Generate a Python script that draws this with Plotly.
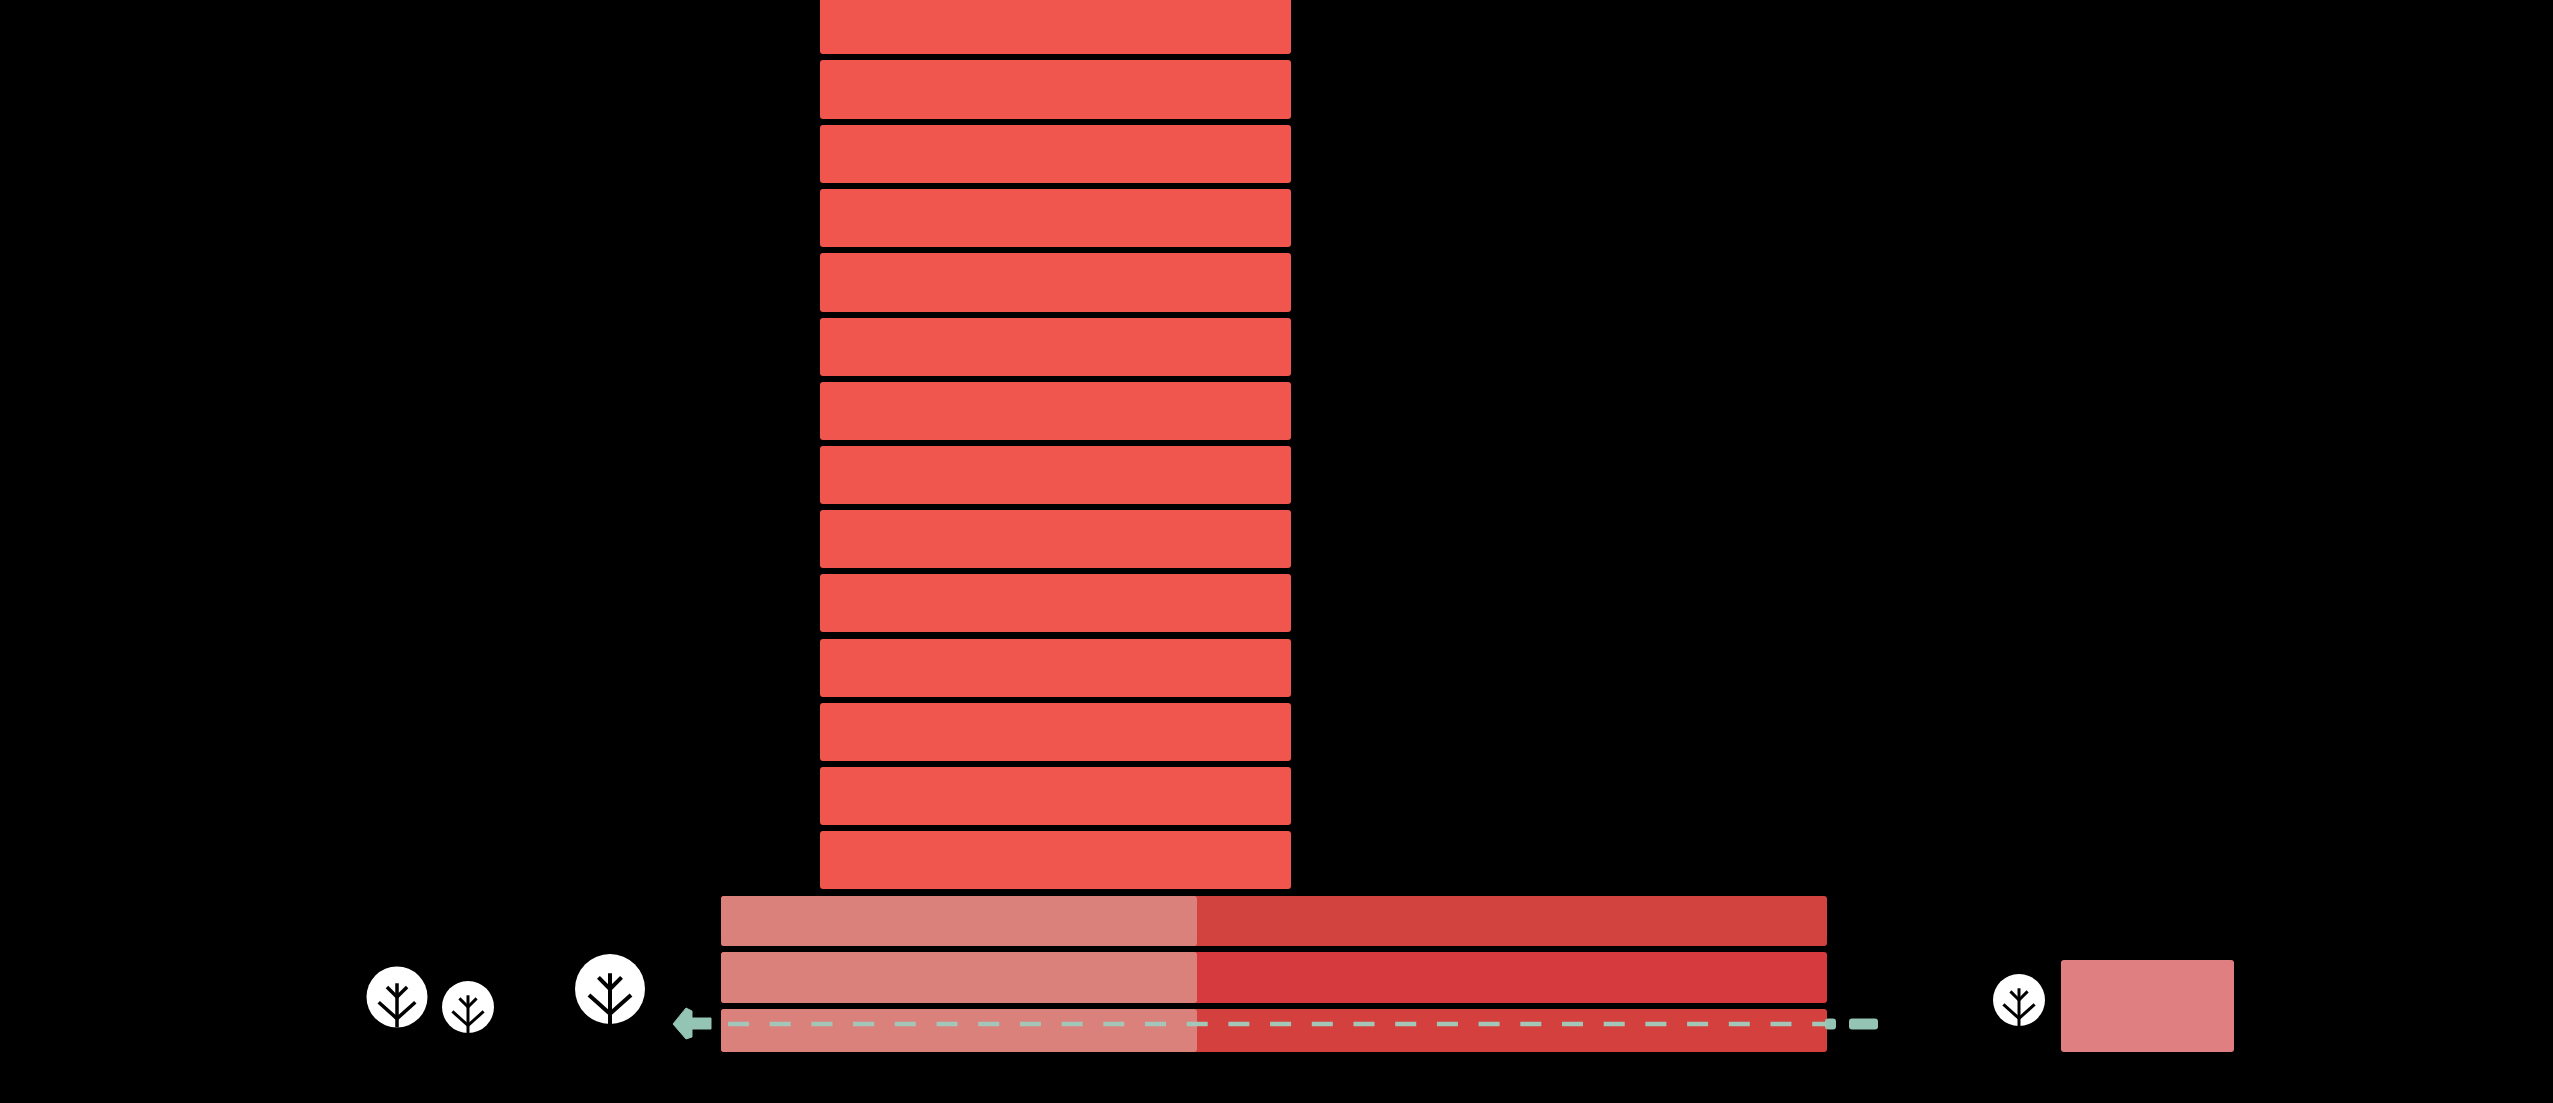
import plotly.graph_objects as go

# Chart values (axis units match the image's 2553 x 1103 frame)
tower_tops = [-5, 60, 125, 189, 253, 318, 382, 446, 510, 574, 639, 703, 767, 831]
tower_bottoms = [54, 119, 183, 247, 312, 376, 440, 504, 568, 632, 697, 761, 825, 889]
tower_start = 820
tower_length = 471

row_tops = [896, 952, 1009]
row_bottoms = [946, 1003, 1052]
row_start = 721
row_light_length = 476
row_full_length = 1106
row_dark_colors = ["#D2423F", "#D73A3E", "#D3403D"]

side_top = 960
side_bottom = 1052
side_start = 2061
side_length = 173

tree_x = [397, 468, 610, 2019]
tree_y = [997, 1007, 989, 1000]
tree_radius = [30.5, 26, 35, 26]

dash_x = [728, 1826]
dash_y = [1024, 1024]
stub_starts = [1825, 1849]
stub_lengths = [11, 29]
stub_y = 1024
arrow_x = [673, 686, 692, 692, 711, 711, 692, 692, 686, 673]
arrow_y = [1024, 1008, 1011, 1018, 1018, 1029, 1029, 1037, 1039, 1024]

TOWER = "#F1564E"
LIGHT = "#DB817C"
SIDE = "#E07F82"
TEAL = "#94C4B3"
DASH = "#A3C6B8"


def centers(tops, bottoms):
    return [(t + b) / 2 for t, b in zip(tops, bottoms)]


def heights(tops, bottoms):
    return [b - t for t, b in zip(tops, bottoms)]


def hbar(y, length, base, width, color, radius=3.5):
    return go.Bar(
        y=y, x=length, base=base, width=width, orientation="h",
        marker=dict(color=color, line=dict(width=0), cornerradius=radius),
        hoverinfo="skip", showlegend=False,
    )


fig = go.Figure()

fig.add_trace(hbar(centers(tower_tops, tower_bottoms), [tower_length] * len(tower_tops),
                   [tower_start] * len(tower_tops), heights(tower_tops, tower_bottoms), TOWER))
fig.add_trace(hbar(centers(row_tops, row_bottoms), [row_full_length] * 3, [row_start] * 3,
                   heights(row_tops, row_bottoms), row_dark_colors))
fig.add_trace(hbar(centers(row_tops, row_bottoms), [row_light_length] * 3, [row_start] * 3,
                   heights(row_tops, row_bottoms), LIGHT))
fig.add_trace(hbar([(side_top + side_bottom) / 2], [side_length], [side_start],
                   [side_bottom - side_top], SIDE))
fig.add_trace(hbar([stub_y, stub_y], stub_lengths, stub_starts, [11, 11], TEAL))

fig.add_trace(go.Scatter(x=dash_x, y=dash_y, mode="lines", hoverinfo="skip", showlegend=False,
                         line=dict(color=DASH, width=4.5, dash="21px,20.7px")))
fig.add_trace(go.Scatter(x=arrow_x, y=arrow_y, mode="lines", fill="toself", fillcolor=TEAL,
                         line=dict(color=TEAL, width=1), hoverinfo="skip", showlegend=False))

# Tree badges: white discs with a black branching glyph scaled by each radius
fig.add_trace(go.Scatter(
    x=tree_x, y=tree_y, mode="markers", hoverinfo="skip", showlegend=False,
    marker=dict(color="white", opacity=1, size=[2 * r for r in tree_radius], sizemode="diameter",
                line=dict(width=0)),
))
for cx, cy, r in zip(tree_x, tree_y, tree_radius):
    xs, ys = [], []
    segments = [
        ((0, -0.45), (0, 1.0)),
        ((0, 0.0), (-0.33, -0.33)),
        ((0, 0.0), (0.33, -0.33)),
        ((0, 0.71), (-0.6, 0.17)),
        ((0, 0.71), (0.6, 0.17)),
    ]
    for (a, b), (c, d) in segments:
        xs += [cx + a * r, cx + c * r, None]
        ys += [cy + b * r, cy + d * r, None]
    fig.add_trace(go.Scatter(x=xs, y=ys, mode="lines", hoverinfo="skip", showlegend=False,
                             line=dict(color="black", width=r * 0.115)))

fig.update_layout(
    width=2553, height=1103, autosize=False,
    margin=dict(l=0, r=0, t=0, b=0),
    paper_bgcolor="black", plot_bgcolor="black",
    barmode="overlay", showlegend=False,
    xaxis=dict(range=[0, 2553], visible=False, fixedrange=True),
    yaxis=dict(range=[1103, 0], visible=False, fixedrange=True),
)

fig.write_html("out.html", config={"displayModeBar": False},
               post_script="document.body.style.margin='0';document.body.style.background='black';")
